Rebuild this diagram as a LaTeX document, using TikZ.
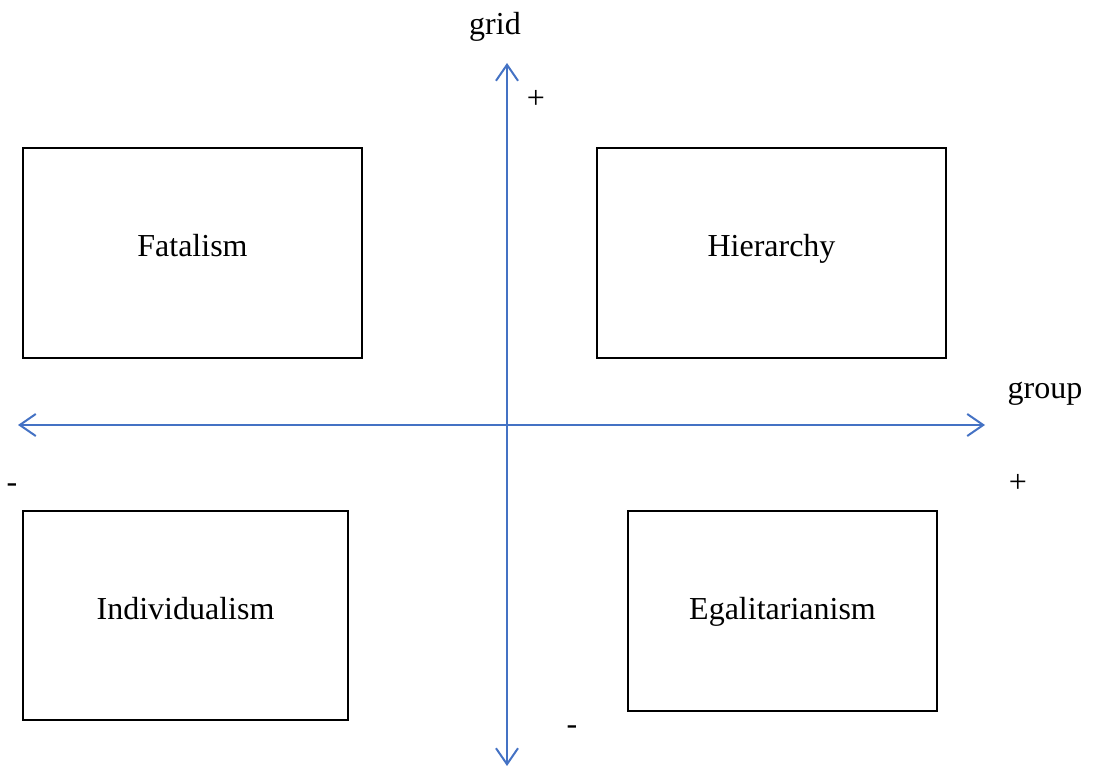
\documentclass[tikz,border=0pt]{standalone}
\usepackage{fontspec}
\setmainfont{Liberation Serif}
\usetikzlibrary{arrows.meta}
\definecolor{axblue}{RGB}{68,114,196}
\begin{document}
\begin{tikzpicture}[x=1pt,y=-1pt,
  box/.style={draw=black,line width=1.3pt},
  lbl/.style={font=\fontsize{32}{38}\selectfont,inner sep=0pt},
  bl/.style={lbl,anchor=base},
  axis/.style={draw=axblue,line width=2pt,{Straight Barb[length=16pt,width=22pt,line width=2pt]}-{Straight Barb[length=16pt,width=22pt,line width=2pt]}}]
\useasboundingbox (0,0) rectangle (1098,767);
\draw[box] (23,148) rectangle (362,358);
\draw[box] (597,148) rectangle (946,358);
\draw[box] (23,511) rectangle (348,720);
\draw[box] (628,511) rectangle (937,711);
\node[bl] (fat) at (192.5,257) {Fatalism};
\node[bl] (hier) at (771.5,257) {Hierarchy};
\node[bl] (ind) at (185.5,619) {Individualism};
\node[bl] (ega) at (782.5,619) {Egalitarianism};
\coordinate (vt) at (507,63);
\coordinate (vb) at (507,766);
\coordinate (hl) at (18,425);
\coordinate (hr) at (985,425);
\draw[axis] (vb) -- (vt);
\draw[axis] (hl) -- (hr);
\node[bl] (grid) at (495,35) {grid};
\node[lbl] (gp) at (536,99) {+};
\node[bl] (group) at (1045,399) {group};
\node[lbl] (gm) at (12,488) {-};
\node[lbl] (grp) at (1018,483) {+};
\node[lbl] (gridm) at (572,730) {-};
\end{tikzpicture}
\end{document}
